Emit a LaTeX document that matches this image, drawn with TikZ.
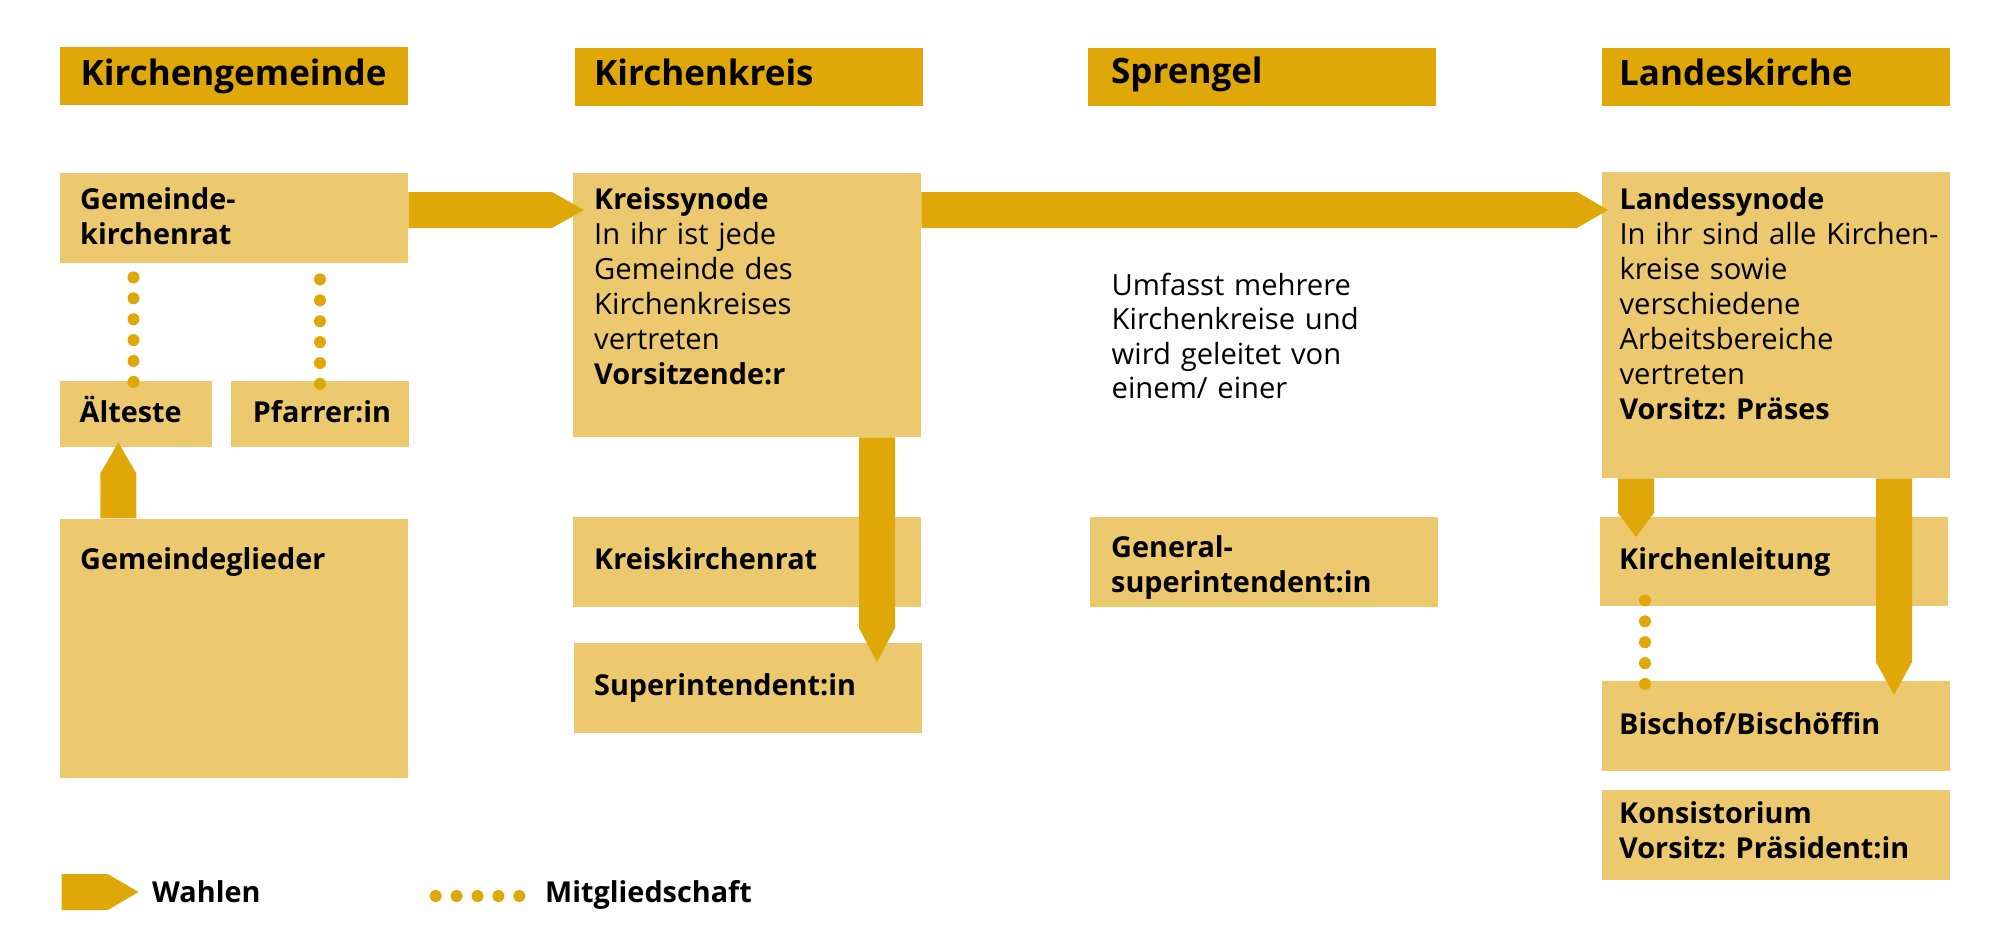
\documentclass[tikz,border=0pt]{standalone}
\usepackage{fontspec}
\setmainfont{Open Sans}
\usetikzlibrary{calc}
\definecolor{gold}{RGB}{224,167,8}
\definecolor{hell}{RGB}{236,201,111}
\newcommand\wahlpfeil[3]{%
  \coordinate (wpB) at ($(#2)!#3!(#1)$);
  \fill[gold] ($(#1)!18pt!90:(#2)$) -- ($(wpB)!18pt!-90:(#1)$) -- (#2) -- ($(wpB)!18pt!90:(#1)$) -- ($(#1)!18pt!-90:(#2)$) -- cycle;}
\frenchspacing
\begin{document}
\begin{tikzpicture}[x=1pt,y=-1pt,
  hbox/.style={fill=gold, draw=none, inner sep=0pt, anchor=north west, minimum width=348pt, minimum height=58pt},
  lbox/.style={fill=hell, draw=none, inner sep=0pt, anchor=north west},
  htxt/.style={anchor=base west, inner sep=0pt, font=\fontsize{35}{40}\selectfont\bfseries},
  txt/.style={anchor=base west, inner sep=0pt, text width=340pt, align=left, font=\fontsize{29.2}{35.1}\selectfont},
  btxt/.style={anchor=base west, inner sep=0pt, text width=340pt, align=left, font=\fontsize{28.8}{35.1}\selectfont\bfseries},
  dots/.style={draw=gold, line width=12pt, line cap=round, dash pattern=on 0pt off 20.9pt},
]
\useasboundingbox (0,0) rectangle (2008,945);
% headers
\node[hbox] (hkg) at (60,47) {};
\node[htxt] (hkgt) at (80.5,85) {Kirchengemeinde};
\node[hbox] (hkk) at (575,48) {};
\node[htxt] (hkkt) at (594,85) {Kirchenkreis};
\node[hbox] (hsp) at (1088,48) {};
\node[htxt] (hspt) at (1111,83) {Sprengel};
\node[hbox] (hlk) at (1602,48) {};
\node[htxt] (hlkt) at (1619,85) {Landeskirche};
% boxes
\node[lbox, minimum width=348pt, minimum height=90pt] (gkr) at (60,173) {};
\node[lbox, minimum width=348pt, minimum height=264pt] (ksy) at (573,173) {};
\node[lbox, minimum width=151.5pt, minimum height=66pt] (alt) at (60,381) {};
\node[lbox, minimum width=178pt, minimum height=66pt] (pfr) at (231,381) {};
\node[lbox, minimum width=348pt, minimum height=259pt] (ggl) at (60,518.3) {};
\node[lbox, minimum width=348pt, minimum height=90pt] (kkr) at (573,517) {};
\node[lbox, minimum width=348pt, minimum height=90pt] (sup) at (574,643) {};
\node[lbox, minimum width=348pt, minimum height=90pt] (gsu) at (1090,517) {};
\node[lbox, minimum width=348pt, minimum height=306pt] (lsy) at (1602,172) {};
\node[lbox, minimum width=348pt, minimum height=89pt] (kl) at (1600,517) {};
\node[lbox, minimum width=348pt, minimum height=90pt] (bis) at (1602,681) {};
\node[lbox, minimum width=348pt, minimum height=90pt] (kon) at (1602,790) {};
% texts
\node[btxt] (gkrt) at (80,209.3) {Gemeinde-\\kirchenrat};
\node[txt] (ksyt) at (594,209.3) {\textbf{\fontsize{28.8}{35.1}\selectfont Kreissynode}\\In ihr ist jede\\Gemeinde des\\Kirchenkreises\\vertreten\\\textbf{\fontsize{28.8}{35.1}\selectfont Vorsitzende:r}};
\node[btxt] (altt) at (79.5,422.3) {Älteste};
\node[btxt] (pfrt) at (252.7,422.3) {Pfarrer:in};
\node[btxt] (gglt) at (80,569.3) {Gemeindeglieder};
\node[btxt] (kkrt) at (594,569) {Kreiskirchenrat};
\node[btxt] (supt) at (594,695.5) {Superintendent:in};
\node[btxt] (gsut) at (1111,557.5) {General-\\superintendent:in};
\node[txt, font=\fontsize{29.2}{34.2}\selectfont] (sprt) at (1111.5,295.7) {Umfasst mehrere\\Kirchenkreise und\\wird geleitet von\\einem/ einer};
\node[txt] (lsyt) at (1619.3,209.3) {\textbf{\fontsize{28.8}{35.1}\selectfont Landessynode}\\In ihr sind alle Kirchen-\\kreise sowie\\verschiedene\\Arbeitsbereiche\\vertreten\\\textbf{\fontsize{28.8}{35.1}\selectfont Vorsitz: Präses}};
\node[btxt] (klt) at (1619,569) {Kirchenleitung};
\node[btxt] (bist) at (1619,734.5) {Bischof/Bischöffin};
\node[btxt] (kont) at (1619,823.5) {Konsistorium\\Vorsitz: Präsident:in};
% arrows (Wahlen)
\coordinate (a1p) at ($(gkr.north east)+(0,37)$);
\coordinate (a1q) at ($(ksy.north west)+(11,37)$);
\wahlpfeil{a1p}{a1q}{32pt}
\coordinate (a2p) at ($(ksy.north east)+(0,37)$);
\coordinate (a2q) at ($(lsy.north west)+(6,38)$);
\wahlpfeil{a2p}{a2q}{31pt}
\coordinate (a3p) at ($(ggl.north west)+(58.3,0)$);
\coordinate (a3q) at ($(alt.south west)+(58.3,-5)$);
\wahlpfeil{a3p}{a3q}{31pt}
\coordinate (a4p) at ($(ksy.south west)+(304,0)$);
\coordinate (a4q) at ($(sup.north west)+(303,19)$);
\wahlpfeil{a4p}{a4q}{34pt}
\coordinate (a5p) at ($(lsy.south west)+(34,0)$);
\coordinate (a5q) at ($(kl.north west)+(36,20)$);
\wahlpfeil{a5p}{a5q}{24pt}
\coordinate (a6p) at ($(lsy.south west)+(292,0)$);
\coordinate (a6q) at ($(bis.north west)+(292,14)$);
\wahlpfeil{a6p}{a6q}{33pt}
% membership dots
\draw[dots] ($(gkr.south west)+(73.5,14)$) -- ($(alt.north west)+(73.5,2)$);
\draw[dots] ($(gkr.south west)+(260,16)$) -- ($(pfr.north west)+(89,3)$);
\draw[dots] ($(kl.south west)+(45,-6)$) -- ($(bis.north west)+(43,3)$);
% legend
\coordinate (lgp) at (61.5,892);
\coordinate (lgq) at (138.6,892);
\wahlpfeil{lgp}{lgq}{31pt}
\node[btxt] (lgw) at (152,902.7) {Wahlen};
\coordinate (ldp) at (435.7,896);
\coordinate (ldq) at (520,896);
\draw[dots] (ldp) -- (ldq);
\node[btxt] (lgm) at (545,902.7) {Mitgliedschaft};
\end{tikzpicture}
\end{document}
